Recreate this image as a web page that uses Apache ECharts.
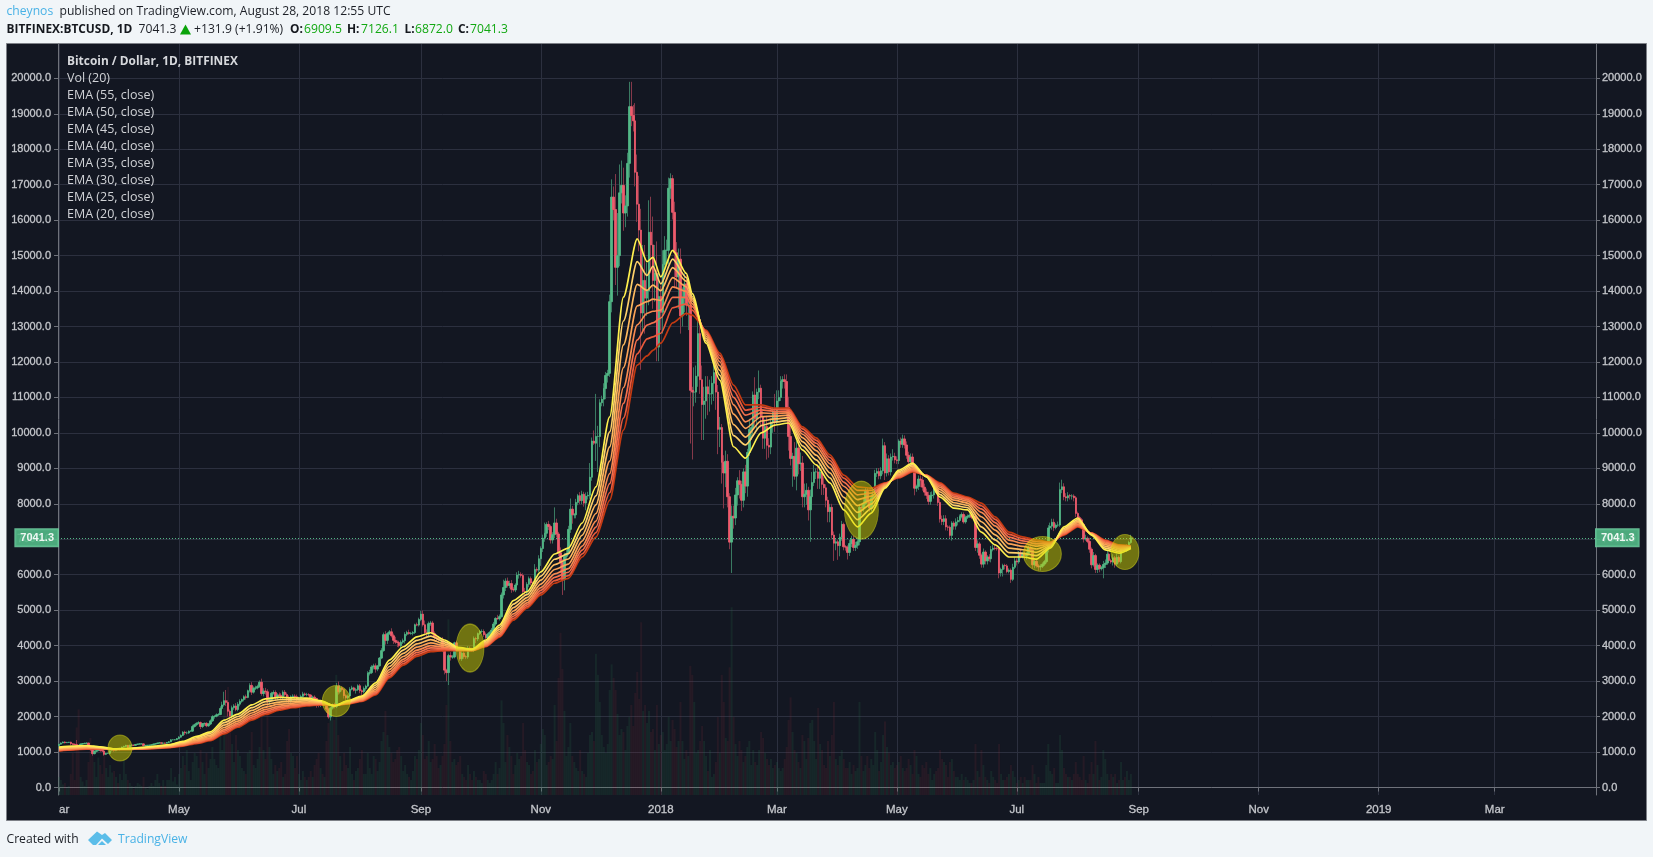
<!DOCTYPE html>
<html><head><meta charset="utf-8">
<style>html,body{margin:0;padding:0;background:#f1f5f8}#c{width:1653px;height:857px}</style>
<script src="https://cdn.jsdelivr.net/npm/echarts@6/dist/echarts.min.js"></script>
</head><body><div id="c"></div>
<script>
const firstOpen = 1180;
const closes = [
1222,1256,1282,1264,1272,1277,1233,1220,1210,1190,1180,1225,1238,1243,1254,1175,1070,955,1020,1045,1115,1040,1030,935,965,965,1040,1045,1040,1080,1075,
1095,1140,1160,1190,1130,1195,1195,1190,1215,1225,1230,1230,1180,1190,1190,1195,1205,1225,1235,1255,1260,1250,1255,1250,1270,1290,1345,1345,1350,1380,
1420,1470,1560,1540,1540,1590,1590,1720,1770,1810,1830,1720,1800,1810,1740,1790,1880,2000,2010,2050,2060,2230,2330,2450,2400,2150,2020,2250,2300,2200,2350,
2430,2480,2560,2540,2730,2880,2690,2800,2810,2850,2970,2650,2720,2700,2420,2480,2660,2680,2530,2610,2600,2550,2690,2620,2520,2430,2560,2580,2560,2490,
2520,2570,2640,2620,2620,2610,2520,2550,2510,2350,2330,2400,2360,2370,2210,1990,2240,2300,2280,2850,2700,2810,2760,2590,2530,2580,2770,2810,2740,2760,2870,
2730,2700,2790,2860,3220,3240,3400,3430,3340,3430,3650,3860,4310,4150,4340,4390,4280,4150,4100,4090,4000,4100,4140,4320,4370,4340,4350,4370,4590,4580,4740,
4890,4590,4370,4330,4620,4640,4340,4230,4220,4170,4180,3880,3310,3240,3720,3680,3680,4080,3920,3900,3630,3790,3690,3680,3930,3900,3880,4200,4190,4340,
4400,4400,4310,4220,4320,4370,4440,4610,4770,4760,4820,5430,5640,5820,5700,5750,5590,5570,5710,5990,6010,5980,5530,5510,5730,5890,5770,5750,6150,6130,6450,
6740,7030,7170,7420,7360,6980,7130,7460,7150,6620,6340,5860,6520,6600,7280,7850,7690,7690,8040,8230,8090,8270,8020,8220,8240,8750,9770,9710,9900,9900,
10850,10950,11250,11620,11680,13700,16650,16300,14670,15000,16770,16980,16200,16400,17600,19200,18950,18800,17350,16450,15720,13380,14300,13800,14000,15660,15300,14300,14500,12420,13850,
13400,14750,15150,15150,16900,17170,16220,15080,14400,14900,13300,13800,14200,13600,13600,11200,11150,11150,11600,12800,11500,10800,10900,11300,11100,11100,11400,11700,11150,10100,10150,
9170,8870,9200,8200,6920,7650,7600,8250,8650,8550,8100,8900,8500,9450,10100,10150,11070,10400,11150,11260,10450,9850,10180,9650,9600,10300,10600,10330,
10900,11000,11450,11500,11450,10720,9900,9280,9340,8780,9570,9130,9150,8200,8270,8380,7830,8200,8600,8900,8900,8720,8900,8550,8450,8100,7780,7900,7120,6890,6930,
6820,7060,7420,6790,6780,6630,6880,7000,6770,6830,6930,7900,7880,8000,8350,8050,7880,8170,8270,8860,8910,8790,8930,9640,8870,9270,8900,9320,9340,9240,
9220,9770,9680,9830,9660,9370,9190,9320,9040,8440,8490,8700,8670,8470,8330,8240,8070,8230,8250,8520,8400,8040,7570,7500,7580,7350,7340,7110,7460,7370,7490,
7530,7640,7700,7490,7620,7650,7680,7620,7640,6770,6870,6550,6300,6640,6390,6500,6450,6710,6750,6740,6730,6050,6150,6260,6250,6090,6130,5870,6210,6390,
6360,6620,6510,6600,6530,6600,6760,6700,6280,6380,6250,6220,6240,6300,6370,6730,7320,7370,7480,7330,7400,7400,8400,8480,8200,8170,8230,8220,8220,8170,7730,
7610,7550,7420,7010,7030,6940,6720,6280,6540,6150,6270,6170,6200,6290,6330,6580,6400,6360,6480,6300,6490,6370,6710,6710,6690,6760,6909.5,7041.3];
const wickUp = [
20,15,15,20,15,10,15,20,20,130,10,20,15,25,15,10,10,40,30,20,10,30,20,20,15,20,15,15,25,15,20,
25,15,20,15,10,10,15,10,10,10,15,10,15,5,10,10,10,15,10,10,10,15,10,10,15,20,15,15,15,10,
30,30,30,40,40,20,25,50,30,30,40,30,20,20,30,30,40,40,30,40,40,60,90,250,300,60,50,60,50,80,60,
60,30,40,60,30,60,90,50,60,50,50,100,80,90,70,60,40,60,60,50,70,60,50,60,60,80,40,50,50,60,
40,50,60,40,50,40,20,40,50,20,30,50,50,30,30,40,40,70,90,100,140,80,40,30,40,40,60,60,30,50,40,
50,40,60,40,60,80,50,60,70,20,30,70,60,100,40,50,100,60,100,50,50,50,60,60,50,80,40,40,30,60,50,
90,100,120,90,60,60,60,60,90,50,50,60,60,40,50,100,60,30,60,40,60,60,50,40,60,50,40,60,50,30,
40,60,60,60,40,40,60,60,30,100,60,70,220,80,100,80,100,60,50,80,100,60,60,100,60,60,60,40,150,60,100,
60,100,300,60,100,50,70,440,120,60,150,100,100,100,100,300,90,50,100,50,100,100,70,100,100,400,100,300,1200,300,
100,100,150,100,100,200,500,300,1000,1200,800,700,500,300,300,700,700,300,500,500,800,600,1000,1000,800,900,1000,800,800,900,700,
300,400,400,300,300,150,100,300,300,300,300,300,300,300,300,200,100,700,300,500,300,400,400,300,300,400,200,300,200,200,300,
100,200,300,200,100,300,300,200,100,300,100,100,200,100,300,100,100,500,100,500,100,200,200,300,200,100,100,500,
300,200,150,100,150,200,300,400,100,400,200,400,300,200,300,200,100,200,300,200,100,200,200,200,200,100,100,100,100,100,100,
50,100,100,50,50,50,100,100,100,100,100,100,100,150,100,100,100,100,100,100,100,100,100,200,100,150,100,100,200,100,
100,50,100,120,100,100,100,100,100,100,50,100,100,100,100,100,100,100,100,100,100,100,100,100,100,100,50,50,50,50,100,
100,60,60,60,50,50,50,50,50,60,100,60,50,100,50,50,80,100,100,80,50,50,50,50,50,50,50,50,100,100,
70,50,100,50,60,50,60,50,60,50,50,50,60,50,50,60,80,100,100,100,50,100,200,200,100,100,100,50,50,50,50,
50,50,50,50,100,50,100,50,100,50,50,50,50,100,100,100,50,50,100,50,100,50,100,50,50,100,50,85];
const wickDown = [
20,15,10,20,10,15,40,30,20,50,20,10,15,10,20,60,40,60,20,30,20,30,30,40,20,20,15,20,30,15,30,
30,15,15,15,30,15,20,15,10,10,10,10,20,10,20,10,10,10,10,10,10,15,15,15,10,15,10,15,15,15,
20,20,20,60,40,30,20,20,30,40,30,70,40,60,40,30,30,30,60,30,30,20,30,50,100,150,170,60,60,50,50,
60,40,50,60,20,50,80,40,50,40,40,60,80,80,120,80,50,40,70,60,60,70,50,50,120,60,100,40,60,60,
30,30,40,40,50,40,50,50,40,100,70,60,50,60,100,50,100,40,50,40,80,50,50,80,60,50,20,30,30,90,40,
70,120,50,60,30,60,40,70,100,60,20,30,30,120,100,40,50,100,50,130,50,100,50,80,50,30,30,60,40,30,40,
50,50,80,100,100,60,40,60,90,50,50,60,120,240,350,100,50,40,60,60,50,60,60,60,50,60,40,60,120,60,
40,40,60,30,40,40,30,50,50,30,50,30,100,100,60,80,100,50,60,50,100,60,100,100,60,80,70,50,50,60,60,
200,100,100,100,100,100,100,100,100,100,300,430,300,100,50,100,250,100,100,80,100,100,100,200,100,100,100,50,500,1000,
300,100,200,300,200,100,300,300,500,800,300,300,500,400,300,400,300,300,400,500,600,1600,500,1000,500,400,800,800,600,400,400,
500,600,400,400,400,300,200,1000,300,900,500,300,400,300,700,1500,1900,400,300,300,400,1000,1000,500,600,500,300,500,500,700,500,
600,1000,400,300,200,870,300,200,300,400,300,200,200,300,100,300,200,200,300,200,300,300,300,400,300,200,300,300,
100,200,100,200,200,300,400,200,800,100,400,300,200,300,300,300,300,900,200,100,200,300,300,300,200,200,300,300,100,500,200,
400,300,100,100,100,200,100,100,100,100,100,100,200,100,50,100,100,100,100,100,100,100,100,100,200,100,100,100,100,100,
100,100,100,100,100,100,100,100,100,200,100,100,200,100,100,100,100,100,100,100,100,100,100,100,100,100,100,100,150,100,100,
100,50,50,50,50,50,50,50,50,100,150,100,100,100,100,100,80,100,50,50,50,150,100,200,100,50,50,100,50,50,
100,50,50,50,100,100,60,100,100,100,50,100,100,50,50,50,100,50,100,100,50,50,50,100,100,100,100,100,100,100,100,
100,50,100,100,50,50,100,100,50,100,100,100,50,300,100,50,50,50,100,100,50,50,50,50,50,50,50,37];
const volume = [
12,10,7,8,5,6,14,28,10,45,57,12,9,6,10,22,38,26,22,12,25,20,14,30,18,12,20,15,16,12,8,
14,10,24,14,10,8,6,4,6,8,7,6,12,5,4,6,8,6,10,14,8,6,10,6,10,10,18,9,12,7,
14,18,26,20,30,16,10,22,28,26,18,30,22,14,28,18,24,32,24,20,18,40,30,58,60,72,52,34,22,40,30,
26,18,16,14,28,30,42,20,18,24,32,56,30,24,62,32,24,14,20,16,18,22,12,14,36,44,28,26,18,26,
14,10,16,12,10,12,16,12,20,24,28,18,14,12,36,48,58,52,50,80,40,26,16,28,20,18,32,14,10,16,18,
24,30,14,14,28,18,14,26,24,16,22,36,42,56,40,32,28,22,24,30,32,26,16,20,14,12,10,16,26,24,30,
48,40,24,26,36,22,24,34,26,18,20,26,34,60,117,36,22,24,20,22,26,14,12,10,20,14,10,16,12,10,
10,8,16,14,10,8,10,14,22,14,18,63,48,22,40,32,26,14,20,28,24,26,48,30,22,20,14,16,30,22,24,
34,44,40,20,22,26,24,60,36,78,108,84,56,26,32,48,26,22,18,16,30,16,14,12,28,40,42,36,94,80,
62,40,32,28,34,70,87,78,70,54,40,44,42,30,46,52,60,46,68,82,64,115,56,60,48,56,42,44,30,60,34,
40,42,30,34,52,36,50,44,32,36,62,36,24,30,26,86,80,62,28,30,36,46,36,26,16,30,12,14,22,52,28,
80,62,38,36,85,125,52,34,26,36,30,22,26,32,36,20,30,22,20,30,42,38,28,24,20,24,18,20,
22,18,16,18,24,32,50,65,42,30,28,22,18,40,36,24,38,48,50,36,24,58,34,30,20,18,36,26,40,62,24,
20,26,30,24,18,18,22,14,20,16,18,62,26,16,20,26,18,24,20,42,30,16,22,40,49,32,28,20,22,18,
20,22,26,18,16,18,24,20,14,30,26,14,12,20,18,22,14,18,10,14,16,18,30,24,22,20,12,22,24,16,12,
12,10,14,10,12,10,8,8,10,34,16,12,30,20,12,10,8,16,12,10,8,34,14,10,10,12,14,20,16,12,
8,10,12,8,12,10,10,10,20,14,8,12,8,8,8,20,34,16,14,18,8,8,40,30,18,14,12,12,10,14,22,
14,12,10,26,10,8,14,22,14,36,20,10,12,30,24,14,10,14,12,14,8,10,22,10,12,16,10,14];
const emaDay = [0,7,14,21,28,35,42,49,56,63,70,77,84,91,98,105,112,119,126,133,140,147,154,161,168,175,182,189,196,203,210,217,224,231,238,245,252,259,266,273,280,287,294,299,302,306,312,319,322,329,336,343,349,357,364,371,378,385,392,399,406,413,420,427,434,441,448,455,462,469,476,483,490,497,504,511,518,525,532,539,545];
const ema20 = [1140,1170,1185,1145,1090,1100,1130,1170,1210,1300,1440,1570,1900,2070,2330,2500,2540,2530,2520,2450,2300,2450,2580,2950,3595,3970,4250,4365,4160,3950,3900,4160,4580,5270,5520,6080,6585,6750,7460,8480,10450,13830,15470,14830,14950,14400,15150,14500,13930,12530,11490,9610,9290,10000,10220,10280,9520,9100,8590,7830,7350,7740,8440,8950,9150,8760,8190,7880,7830,7200,6840,6500,6500,6440,6750,7350,7600,7120,6700,6610,6740];
const ema25 = [1120,1150,1167,1134,1087,1096,1122,1157,1195,1277,1404,1525,1830,2003,2253,2421,2475,2480,2480,2428,2304,2434,2553,2889,3504,3876,4151,4269,4106,3934,3893,4126,4519,5171,5437,5963,6437,6597,7287,8224,10027,13155,14829,14440,14700,14200,14900,14380,13840,12597,11627,9923,9660,10208,10306,10356,9637,9237,8732,8006,7553,7866,8467,8910,9105,8769,8262,7956,7895,7348,6982,6626,6603,6537,6781,7309,7555,7131,6750,6651,6753];
const ema30 = [1100,1130,1149,1123,1085,1091,1114,1145,1179,1253,1368,1480,1760,1937,2175,2342,2410,2429,2441,2407,2307,2418,2526,2828,3413,3783,4052,4172,4052,3918,3886,4092,4458,5072,5354,5846,6288,6444,7114,7969,9604,12480,14188,14020,14170,14010,14660,14280,13780,12663,11764,10236,9880,10336,10393,10431,9754,9374,8874,8183,7757,7992,8494,8871,9060,8778,8334,8031,7960,7495,7124,6752,6705,6634,6811,7267,7510,7142,6801,6693,6765];
const ema35 = [1082,1112,1132,1113,1082,1087,1106,1133,1165,1231,1334,1438,1693,1874,2102,2267,2349,2382,2403,2386,2311,2402,2500,2770,3327,3694,3958,4081,4001,3902,3879,4059,4400,4978,5276,5735,6148,6300,6951,7727,9205,11842,13583,13700,13770,13740,14380,14120,13720,12726,11893,10532,10130,10456,10474,10503,9865,9503,9009,8349,7949,8111,8520,8833,9018,8787,8402,8103,8021,7635,7259,6871,6802,6726,6840,7228,7468,7152,6848,6732,6777];
const ema40 = [1065,1095,1117,1104,1080,1083,1099,1122,1152,1212,1304,1400,1635,1818,2038,2201,2295,2340,2370,2368,2314,2389,2478,2719,3252,3616,3876,4001,3956,3889,3873,4031,4349,4896,5207,5638,6024,6172,6807,7514,8852,11280,13049,13370,13430,13460,14120,13990,13640,12782,12007,10793,10310,10563,10546,10566,9962,9617,9127,8496,8118,8216,8542,8800,8980,8794,8462,8166,8075,7758,7377,6976,6888,6807,6866,7194,7430,7161,6890,6766,6788];
const ema45 = [1052,1082,1105,1097,1078,1080,1094,1114,1142,1196,1280,1370,1588,1774,1986,2148,2252,2306,2344,2354,2316,2378,2460,2678,3191,3554,3810,3937,3920,3878,3868,4008,4308,4830,5152,5560,5925,6070,6692,7344,8570,10830,12622,13040,13100,13240,13820,13820,13560,12826,12098,11002,10500,10648,10604,10616,10040,9708,9222,8614,8254,8300,8560,8774,8950,8800,8510,8216,8118,7856,7472,7060,6956,6872,6886,7166,7400,7168,6924,6794,6796];
const ema50 = [1040,1070,1094,1090,1076,1077,1089,1106,1133,1182,1258,1342,1545,1733,1939,2100,2212,2275,2320,2341,2318,2368,2443,2641,3135,3497,3750,3878,3887,3868,3864,3987,4271,4770,5101,5489,5834,5976,6586,7188,8312,10418,12230,12650,12710,12810,13530,13640,13460,12867,12182,11193,10640,10726,10657,10662,10112,9792,9309,8722,8378,8377,8577,8750,8923,8806,8554,8262,8158,7946,7559,7137,7019,6931,6905,7141,7372,7175,6955,6819,6804];
const ema55 = [1030,1060,1085,1085,1075,1075,1085,1100,1125,1170,1240,1320,1510,1700,1900,2060,2180,2250,2300,2330,2320,2360,2430,2610,3090,3450,3700,3830,3860,3860,3860,3970,4240,4720,5060,5430,5760,5900,6500,7060,8100,10080,11910,12170,12330,12530,13100,13370,13320,12900,12250,11350,10790,10790,10700,10700,10170,9860,9380,8810,8480,8440,8590,8730,8900,8810,8590,8300,8190,8020,7630,7200,7070,6980,6920,7120,7350,7180,6980,6840,6810];
const markDay = [31,141,209,408,500,542];
const markPrice = [1114,2440,3935,7825,6585,6640];
const priceTicks = [0,1000,2000,3000,4000,5000,6000,7000,8000,9000,10000,11000,12000,13000,14000,15000,16000,17000,18000,19000,20000];
const monthDates = ['2017-03-01','2017-05-01','2017-07-01','2017-09-01','2017-11-01','2018-01-01','2018-03-01','2018-05-01','2018-07-01','2018-09-01','2018-11-01','2019-01-01','2019-03-01'];
const monthLabels = ['ar','May','Jul','Sep','Nov','2018','Mar','May','Jul','Sep','Nov','2019','Mar'];
const lastPrice = 7041.3;

const axisDays = 782;
const pad = n => String(n).padStart(2,'0');
const dates = [];
for (let i=0;i<axisDays;i++){const d=new Date(Date.UTC(2017,2,1+i));dates.push(d.getUTCFullYear()+'-'+pad(d.getUTCMonth()+1)+'-'+pad(d.getUTCDate()));}
const labelOf = {}; monthDates.forEach((d,i)=>labelOf[d]=monthLabels[i]);
const isMonth = (i,v)=>labelOf[v]!==undefined;

const opens = closes.map((c,i)=>i?closes[i-1]:firstOpen);
const wickData = closes.map((c,i)=>{const o=opens[i];return [o,c,Math.min(o,c)-(wickDown[i]||0),Math.max(o,c)+(wickUp[i]||0)];});
const bodyData = closes.map((c,i)=>{const o=opens[i];return [o,c,Math.min(o,c),Math.max(o,c)];});
const AX='#6f727b', GRID='#2c303f', TXT='#c4c6cb', UP='#53b987', DOWN='#ee5b6c';
const FONT='"Liberation Sans",Arial,sans-serif', UI='"Open Sans",sans-serif';

const emaSets=[[ema55,'EMA (55, close)','#c43a12'],[ema50,'EMA (50, close)','#ea5a3c'],[ema45,'EMA (45, close)','#f4704c'],[ema40,'EMA (40, close)','#f88a50'],[ema35,'EMA (35, close)','#fba256'],[ema30,'EMA (30, close)','#fdb95e'],[ema25,'EMA (25, close)','#fed06a'],[ema20,'EMA (20, close)','#fff04e']];
const emaSeries=emaSets.map(([arr,name,col])=>({type:'line',name,data:arr.map((v,i)=>[emaDay[i],v]),showSymbol:false,smooth:0.25,smoothMonotone:'x',lineStyle:{color:col,width:1.7},itemStyle:{color:col},z:5,silent:true}));

const legendLines=['Vol (20)','EMA (55, close)','EMA (50, close)','EMA (45, close)','EMA (40, close)','EMA (35, close)','EMA (30, close)','EMA (25, close)','EMA (20, close)'];
const txt=(x,y,text,fill,extra)=>({type:'text',x,y,z:100,style:Object.assign({text,fill,font:'13px '+UI,textVerticalAlign:'middle'},extra||{})});
const b='bold 11.9px '+UI, n='12.15px '+UI, G='#12a812', L='12.5px '+UI;
const overlays=[
 txt(6.5,12,'cheynos','#49b2e6',{font:n}),txt(59.5,12,'published on TradingView.com, August 28, 2018 12:55 UTC','#1c1f26',{font:n}),
 txt(6.5,29.5,'BITFINEX:BTCUSD, 1D','#15181e',{font:b}),txt(138.5,29.5,'7041.3','#1c1f26',{font:n}),
 {type:'polygon',z:100,shape:{points:[[185.5,24.5],[191,34.5],[180,34.5]]},style:{fill:'#0aa30a'}},
 txt(194,29.5,'+131.9 (+1.91%)','#1c1f26',{font:n}),
 txt(290,29.5,'O:','#15181e',{font:b}),txt(304,29.5,'6909.5',G,{font:n}),
 txt(347,29.5,'H:','#15181e',{font:b}),txt(361,29.5,'7126.1',G,{font:n}),
 txt(404.5,29.5,'L:','#15181e',{font:b}),txt(415,29.5,'6872.0',G,{font:n}),
 txt(458,29.5,'C:','#15181e',{font:b}),txt(470,29.5,'7041.3',G,{font:n}),
 txt(67,61.5,'Bitcoin / Dollar, 1D, BITFINEX','#d6d8dc',{font:b}),
 ...legendLines.map((t,i)=>txt(67,78.5+i*17,t,'#d0d2d6',{font:L})),
 txt(6.5,839.5,'Created with','#1c1f26',{font:n}),txt(118,839.5,'TradingView','#49b2e6',{font:n}),
 {type:'polygon',z:100,shape:{points:[[88,840],[97,831.5],[102,835],[105,833],[112,840],[108,844],[102,838.5],[96,845],[93,845]]},style:{fill:'#5bbde9'}},
 {type:'polygon',z:100,shape:{points:[[98,845],[102,841],[106,845]]},style:{fill:'#5bbde9'}}
];
const chart=echarts.init(document.getElementById('c'),null,{renderer:'canvas'});
const yLabel=m=>({customValues:priceTicks,formatter:v=>v.toFixed(1),color:TXT,fontFamily:FONT,fontSize:11,margin:m,padding:[2,0,0,0],textBorderColor:TXT,textBorderWidth:0.3});
chart.setOption({
 animation:false,backgroundColor:'#f1f5f8',
 graphic:[{type:'rect',z:-10,shape:{x:6.5,y:43.5,width:1640,height:777},style:{fill:'#131722',stroke:'#7d8087',lineWidth:1}},...overlays],
 grid:{left:58,right:57,top:44,bottom:62,show:false},
 xAxis:{type:'category',data:dates,boundaryGap:true,
  axisLine:{lineStyle:{color:AX}},
  axisTick:{show:true,interval:isMonth,alignWithLabel:true,length:4,lineStyle:{color:AX}},
  axisLabel:{interval:isMonth,formatter:v=>labelOf[v],color:TXT,fontFamily:FONT,fontSize:11.5,margin:9,alignMinLabel:'left',showMinLabel:true,hideOverlap:false,textBorderColor:TXT,textBorderWidth:0.3},
  splitLine:{show:true,interval:isMonth,alignWithLabel:true,lineStyle:{color:GRID,width:1}}},
 yAxis:[
  {type:'value',position:'left',min:-211,max:20967,
   axisLine:{show:true,lineStyle:{color:AX}},axisTick:{show:true,length:4,customValues:priceTicks,lineStyle:{color:AX}},
   axisLabel:yLabel(7),
   splitLine:{show:true,lineStyle:{color:GRID,width:1}}},
  {type:'value',position:'right',min:-211,max:20967,
   axisLine:{show:true,lineStyle:{color:AX}},axisTick:{show:true,length:4,customValues:priceTicks,lineStyle:{color:AX}},
   axisLabel:yLabel(6),
   splitLine:{show:false}},
  {type:'value',min:0,max:500,show:false,splitLine:{show:false}}
 ],
 series:[
  {type:'bar',yAxisIndex:2,data:volume.map((v,i)=>({value:v,itemStyle:{color:closes[i]>=opens[i]?'rgba(40,120,80,.17)':'rgba(160,50,60,.13)'}})),barWidth:2,silent:true,z:1},
  {type:'candlestick',large:false,data:wickData,barWidth:1,itemStyle:{color:'#3a7a62',color0:'#85394a',borderColor:'#3a7a62',borderColor0:'#85394a',borderWidth:1},z:2,silent:true},
  {type:'candlestick',large:false,data:bodyData,barWidth:2,itemStyle:{color:UP,color0:DOWN,borderColor:UP,borderColor0:DOWN,borderWidth:0.8},z:3,silent:true,
   markLine:{silent:true,symbol:'none',precision:1,lineStyle:{color:UP,type:[1,2],width:1,opacity:.9},
    label:{formatter:lastPrice.toFixed(1),color:'#fff',backgroundColor:UP,padding:[3,4,3,5],fontFamily:FONT,fontSize:11,fontWeight:'bold',distance:0,borderColor:'#6fcaa0',borderWidth:1},
    data:[{yAxis:lastPrice,label:{position:'end'}},{yAxis:lastPrice,label:{position:'start'}}]}},
  ...emaSeries,
  {type:'scatter',symbol:'circle',data:markDay.map((d,i)=>({value:[d,markPrice[i]],symbolSize:[[24,26],[28,31],[28,48],[34,58],[38,35],[28,35]][i]})),itemStyle:{color:'rgba(215,215,0,.6)',borderColor:'rgba(225,225,30,.55)',borderWidth:1},z:8,silent:true}
 ]
});
</script></body></html>
